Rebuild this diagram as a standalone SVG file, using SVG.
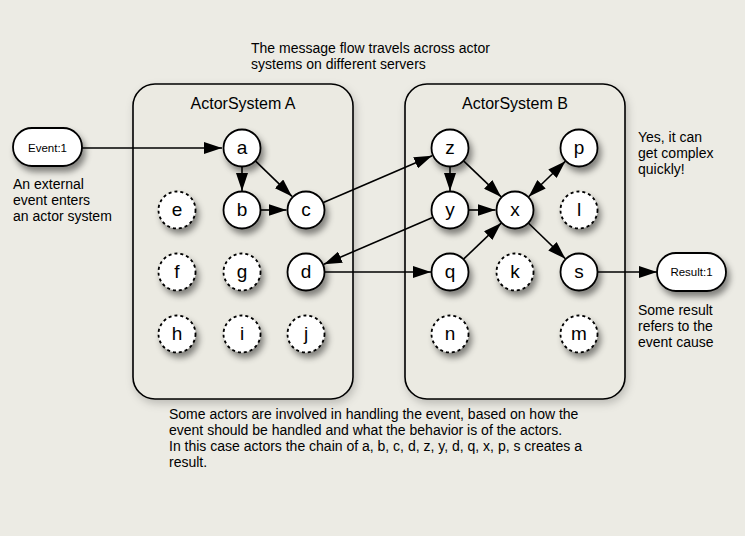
<svg xmlns="http://www.w3.org/2000/svg" width="745" height="536" viewBox="0 0 745 536">
<defs>
<style>
.t{font-family:"Liberation Sans",Arial,sans-serif;fill:#000}
.note{font-size:14px}
.lbl{font-size:19px;text-anchor:middle}
.title{font-size:16px;text-anchor:middle}
.small{font-size:11.5px;text-anchor:middle}
.box{fill:#EBEAE2;stroke:#000;stroke-width:1.6}
.nd{fill:#fff;stroke:#000;stroke-width:1.8}
.dn{fill:#fff;stroke:#000;stroke-width:1.8;stroke-dasharray:3 3}
.e{fill:none;stroke:#000;stroke-width:1.6;marker-end:url(#ah)}
</style>
<marker id="ah" viewBox="0 0 18 12" refX="18" refY="6" markerWidth="18" markerHeight="12" markerUnits="userSpaceOnUse" orient="auto-start-reverse">
<path d="M0,0 L18,6 L0,12 z" fill="#000"/>
</marker>
<filter id="sh" x="-40%" y="-40%" width="190%" height="190%">
<feDropShadow dx="3" dy="5" stdDeviation="3" flood-color="#000" flood-opacity="0.45"/>
</filter>
<filter id="bsh" x="-10%" y="-10%" width="125%" height="125%">
<feDropShadow dx="2" dy="4" stdDeviation="4" flood-color="#000" flood-opacity="0.2"/>
</filter>
</defs>
<rect width="745" height="536" fill="#ECEBE4"/>

<g id="systemA">
<rect class="box" x="133" y="84" width="220" height="315" rx="22" filter="url(#bsh)"/>
<text class="t title" x="243" y="109">ActorSystem A</text>
</g>
<g id="systemB">
<rect class="box" x="405" y="84" width="220" height="315" rx="22" filter="url(#bsh)"/>
<text class="t title" x="515" y="109">ActorSystem B</text>
</g>

<g id="connectors">
<line class="e" x1="82" y1="148" x2="222" y2="148"/>
<line class="e" x1="242" y1="167" x2="242" y2="191"/>
<line class="e" x1="255.6" y1="161.2" x2="292" y2="196.4"/>
<line class="e" x1="261" y1="210" x2="286.5" y2="210"/>
<line class="e" x1="323.4" y1="202.5" x2="432.1" y2="155.7"/>
<line class="e" x1="432.6" y1="217.5" x2="323.9" y2="264.3"/>
<line class="e" x1="325" y1="272" x2="431" y2="272"/>
<line class="e" x1="450" y1="167" x2="450" y2="191"/>
<line class="e" x1="463.8" y1="161.1" x2="501.2" y2="196.9"/>
<line class="e" x1="469" y1="210" x2="495.5" y2="210"/>
<line class="e" x1="463.8" y1="258.9" x2="501.2" y2="223.1"/>
<line class="e" x1="528.6" y1="196.8" x2="565.4" y2="161.2" marker-start="url(#ah)"/>
<line class="e" x1="528.6" y1="223.2" x2="565.4" y2="258.8"/>
<line class="e" x1="598" y1="272" x2="657" y2="272"/>
</g>

<g id="event"><rect class="nd" x="13" y="128" width="69" height="38" rx="19" filter="url(#sh)"/><text class="t small" x="47.5" y="152">Event:1</text></g>
<g id="result"><rect class="nd" x="657" y="253" width="69" height="38" rx="19" filter="url(#sh)"/><text class="t small" x="691.5" y="276">Result:1</text></g>

<g id="a"><circle class="nd" cx="242" cy="148" r="18.5" filter="url(#sh)"/><text class="t lbl" x="242" y="154">a</text></g>
<g id="b"><circle class="nd" cx="242" cy="210" r="18.5" filter="url(#sh)"/><text class="t lbl" x="242" y="216">b</text></g>
<g id="c"><circle class="nd" cx="306" cy="210" r="18.5" filter="url(#sh)"/><text class="t lbl" x="306" y="216">c</text></g>
<g id="e"><circle class="dn" cx="177" cy="210" r="18.5" filter="url(#sh)"/><text class="t lbl" x="177" y="216">e</text></g>
<g id="f"><circle class="dn" cx="177" cy="272" r="18.5" filter="url(#sh)"/><text class="t lbl" x="177" y="278">f</text></g>
<g id="g"><circle class="dn" cx="242" cy="272" r="18.5" filter="url(#sh)"/><text class="t lbl" x="242" y="278">g</text></g>
<g id="d"><circle class="nd" cx="306" cy="272" r="18.5" filter="url(#sh)"/><text class="t lbl" x="306" y="278">d</text></g>
<g id="h"><circle class="dn" cx="177" cy="334" r="18.5" filter="url(#sh)"/><text class="t lbl" x="177" y="340">h</text></g>
<g id="i"><circle class="dn" cx="242" cy="334" r="18.5" filter="url(#sh)"/><text class="t lbl" x="242" y="340">i</text></g>
<g id="j"><circle class="dn" cx="306" cy="334" r="18.5" filter="url(#sh)"/><text class="t lbl" x="306" y="340">j</text></g>

<g id="z"><circle class="nd" cx="450" cy="148" r="18.5" filter="url(#sh)"/><text class="t lbl" x="450" y="154">z</text></g>
<g id="p"><circle class="nd" cx="579" cy="148" r="18.5" filter="url(#sh)"/><text class="t lbl" x="579" y="154">p</text></g>
<g id="y"><circle class="nd" cx="450" cy="210" r="18.5" filter="url(#sh)"/><text class="t lbl" x="450" y="216">y</text></g>
<g id="x"><circle class="nd" cx="515" cy="210" r="18.5" filter="url(#sh)"/><text class="t lbl" x="515" y="216">x</text></g>
<g id="l"><circle class="dn" cx="579" cy="210" r="18.5" filter="url(#sh)"/><text class="t lbl" x="579" y="216">l</text></g>
<g id="q"><circle class="nd" cx="450" cy="272" r="18.5" filter="url(#sh)"/><text class="t lbl" x="450" y="278">q</text></g>
<g id="k"><circle class="dn" cx="515" cy="272" r="18.5" filter="url(#sh)"/><text class="t lbl" x="515" y="278">k</text></g>
<g id="s"><circle class="nd" cx="579" cy="272" r="18.5" filter="url(#sh)"/><text class="t lbl" x="579" y="278">s</text></g>
<g id="n"><circle class="dn" cx="450" cy="334" r="18.5" filter="url(#sh)"/><text class="t lbl" x="450" y="340">n</text></g>
<g id="m"><circle class="dn" cx="579" cy="334" r="18.5" filter="url(#sh)"/><text class="t lbl" x="579" y="340">m</text></g>

<g id="notes">
<text class="t note" x="251" y="53">The message flow travels across actor</text>
<text class="t note" x="251" y="69">systems on different servers</text>
<text class="t note" x="13" y="189">An external</text>
<text class="t note" x="13" y="205">event enters</text>
<text class="t note" x="13" y="221">an actor system</text>
<text class="t note" x="638" y="142">Yes, it can</text>
<text class="t note" x="638" y="158">get complex</text>
<text class="t note" x="638" y="174">quickly!</text>
<text class="t note" x="638" y="315">Some result</text>
<text class="t note" x="638" y="331">refers to the</text>
<text class="t note" x="638" y="347">event cause</text>
<text class="t note" x="169" y="419">Some actors are involved in handling the event, based on how the</text>
<text class="t note" x="169" y="435">event should be handled and what the behavior is of the actors.</text>
<text class="t note" x="169" y="451">In this case actors the chain of a, b, c, d, z, y, d, q, x, p, s creates a</text>
<text class="t note" x="169" y="467">result.</text>
</g>
</svg>
